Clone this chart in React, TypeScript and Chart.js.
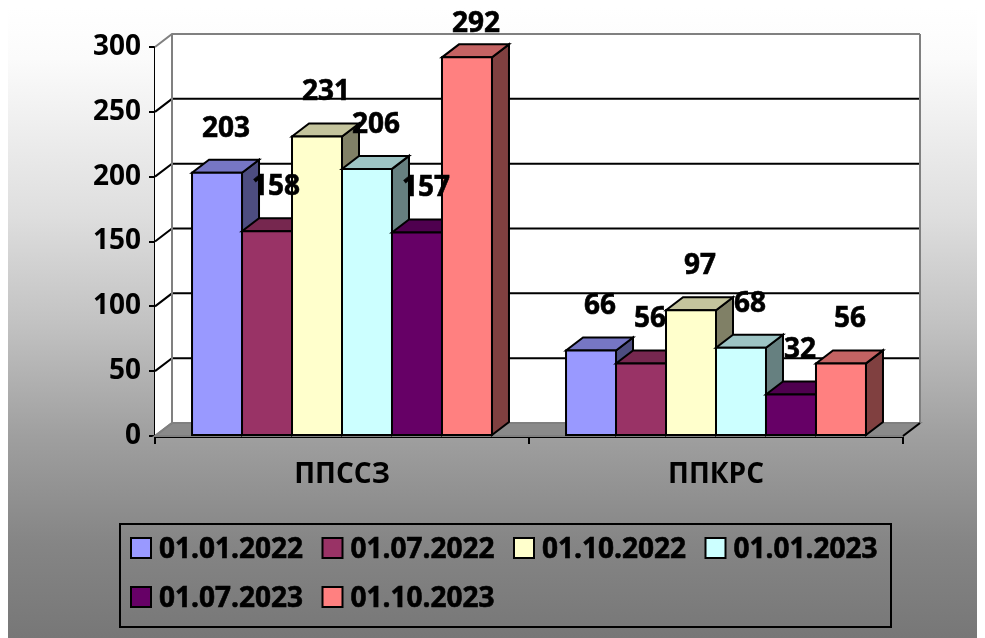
import { useEffect, useRef } from "react";
import { Chart, registerables } from "chart.js";

Chart.register(...registerables);

const categories = ["ППССЗ", "ППКРС"];
const seriesLabels = ["01.01.2022", "01.07.2022", "01.10.2022", "01.01.2023", "01.07.2023", "01.10.2023"];
const values_2022_01 = [203, 66];
const values_2022_07 = [158, 56];
const values_2022_10 = [231, 97];
const values_2023_01 = [206, 68];
const values_2023_07 = [157, 32];
const values_2023_10 = [292, 56];
const seriesValues = [values_2022_01, values_2022_07, values_2022_10, values_2023_01, values_2023_07, values_2023_10];
const seriesColors = ["#9999FF", "#993366", "#FFFFCC", "#CCFFFF", "#660066", "#FF8080"];
const yMin = 0;
const yMax = 300;
const yStep = 50;

const DX = 17;
const DY = -13;
const FAMILY = "'Open Sans', 'Liberation Sans', sans-serif";
const FONT = `bold 28px ${FAMILY}`;

function shade(hex: string, f: number): string {
  const n = parseInt(hex.slice(1), 16);
  const r = Math.round(((n >> 16) & 255) * f);
  const g = Math.round(((n >> 8) & 255) * f);
  const b = Math.round((n & 255) * f);
  return `rgb(${r},${g},${b})`;
}

function poly(ctx: CanvasRenderingContext2D, pts: number[][], fill: string | null, stroke: string | null, lw = 2) {
  ctx.beginPath();
  ctx.moveTo(pts[0][0], pts[0][1]);
  for (let i = 1; i < pts.length; i++) ctx.lineTo(pts[i][0], pts[i][1]);
  ctx.closePath();
  if (fill) {
    ctx.fillStyle = fill;
    ctx.fill();
  }
  if (stroke) {
    ctx.strokeStyle = stroke;
    ctx.lineWidth = lw;
    ctx.lineJoin = "miter";
    ctx.stroke();
  }
}

function boldText(ctx: CanvasRenderingContext2D, text: string, x: number, y: number) {
  ctx.fillText(text, x, y);
  ctx.lineWidth = 0.6;
  ctx.strokeStyle = "#000000";
  ctx.strokeText(text, x, y);
}

const threeDPlugin = {
  id: "threeD",
  beforeDraw(chart: any) {
    const { ctx, width, height } = chart;
    const g = ctx.createLinearGradient(0, 0, 0, height);
    g.addColorStop(0, "#ffffff");
    g.addColorStop(0.08, "#fbfbfb");
    g.addColorStop(0.33, "#dedede");
    g.addColorStop(0.5, "#c2c2c2");
    g.addColorStop(0.68, "#9f9f9f");
    g.addColorStop(0.85, "#858585");
    g.addColorStop(1, "#777777");
    ctx.save();
    ctx.fillStyle = g;
    ctx.fillRect(0, 0, width, height);
    ctx.restore();
  },
  beforeDatasetsDraw(chart: any) {
    const { ctx, chartArea, scales } = chart;
    const { left: L, right: R, top: T, bottom: B } = chartArea;
    const y = scales.y;
    ctx.save();
    poly(ctx, [[L + DX, T + DY], [R + DX, T + DY], [R + DX, B + DY], [L + DX, B + DY]], "#ffffff", null);
    poly(ctx, [[L, T], [L + DX, T + DY], [L + DX, B + DY], [L, B]], "#ffffff", null);
    poly(ctx, [[L, B], [R, B], [R + DX, B + DY], [L + DX, B + DY]], "#8a8a8a", "#808080");
    y.ticks.forEach((t: any) => {
      if (t.value === yMin) return;
      const py = y.getPixelForValue(t.value);
      ctx.beginPath();
      ctx.moveTo(L, py);
      ctx.lineTo(L + DX, py + DY);
      ctx.lineTo(R + DX, py + DY);
      ctx.strokeStyle = t.value === yMax ? "#808080" : "#000000";
      ctx.lineWidth = 2;
      ctx.stroke();
    });
    ctx.strokeStyle = "#808080";
    ctx.lineWidth = 2;
    ctx.beginPath();
    ctx.moveTo(L + DX, T + DY);
    ctx.lineTo(L + DX, B + DY);
    ctx.moveTo(R + DX, T + DY);
    ctx.lineTo(R + DX, B + DY);
    ctx.moveTo(L, B);
    ctx.lineTo(L + DX, B + DY);
    ctx.stroke();
    ctx.strokeStyle = "#000000";
    ctx.beginPath();
    ctx.moveTo(R, B);
    ctx.lineTo(R + DX, B + DY);
    ctx.stroke();
    ctx.restore();
  },
  afterDatasetsDraw(chart: any) {
    const { ctx } = chart;
    ctx.save();
    const bars: any[] = [];
    chart.data.datasets.forEach((ds: any, i: number) => {
      const meta = chart.getDatasetMeta(i);
      const color = seriesColors[i];
      meta.data.forEach((el: any, j: number) => {
        const { x, y, base, width } = el.getProps(["x", "y", "base", "width"], true);
        const x1 = x - width / 2;
        const x2 = x + width / 2;
        poly(ctx, [[x2, y], [x2 + DX, y + DY], [x2 + DX, base + DY], [x2, base]], shade(color, 0.5), "#000000");
        poly(ctx, [[x1, y], [x2, y], [x2 + DX, y + DY], [x1 + DX, y + DY]], shade(color, 0.77), "#000000");
        poly(ctx, [[x1, y], [x2, y], [x2, base], [x1, base]], color, "#000000");
        bars.push({ x, y, v: ds.data[j] });
      });
    });
    ctx.fillStyle = "#000000";
    ctx.font = FONT;
    ctx.textAlign = "center";
    ctx.textBaseline = "middle";
    bars.forEach((b) => boldText(ctx, String(b.v), b.x + 9, Math.max(b.y - 44, 16)));
    ctx.restore();
  },
  afterDraw(chart: any) {
    const { ctx } = chart;
    const bx = 112, by = 516, bw = 771, bh = 103;
    ctx.save();
    ctx.strokeStyle = "#000000";
    ctx.lineWidth = 2;
    ctx.strokeRect(bx, by, bw, bh);
    ctx.font = FONT;
    ctx.textAlign = "left";
    ctx.textBaseline = "middle";
    chart.data.datasets.forEach((ds: any, i: number) => {
      const col = i % 4;
      const row = Math.floor(i / 4);
      const sx = bx + 11 + col * 191.5;
      const sy = by + 14 + row * 49;
      ctx.fillStyle = seriesColors[i];
      ctx.fillRect(sx, sy, 20, 20);
      ctx.strokeStyle = "#000000";
      ctx.lineWidth = 2;
      ctx.strokeRect(sx, sy, 20, 20);
      ctx.fillStyle = "#000000";
      boldText(ctx, ds.label, sx + 28, sy + 12);
    });
    ctx.restore();
  },
};

export default function App() {
  const ref = useRef<HTMLCanvasElement | null>(null);
  useEffect(() => {
    document.documentElement.style.overflow = "hidden";
    document.body.style.overflow = "hidden";
    const canvas = ref.current;
    if (!canvas) return;
    const chart = new Chart(canvas, {
      type: "bar",
      data: {
        labels: categories,
        datasets: seriesLabels.map((label, i) => ({
          label,
          data: seriesValues[i],
          backgroundColor: seriesColors[i],
          borderWidth: 0,
          categoryPercentage: 0.802,
          barPercentage: 1,
        })),
      },
      options: {
        responsive: false,
        animation: false,
        devicePixelRatio: 1,
        layout: { padding: { left: 0, right: 82, top: 39, bottom: 0 } },
        plugins: {
          legend: { display: false },
          tooltip: { enabled: false },
        },
        scales: {
          x: {
            z: 1,
            afterFit: (s: any) => {
              s.height = 202;
            },
            grid: {
              display: true,
              drawOnChartArea: false,
              drawTicks: true,
              tickLength: 8,
              color: "#000000",
              lineWidth: 2,
              offset: true,
            },
            border: { display: true, color: "#000000", width: 3 },
            ticks: {
              color: "#000000",
              padding: 14,
              font: { family: FAMILY, size: 28, weight: "bold" },
            },
          },
          y: {
            z: 1,
            min: yMin,
            max: yMax,
            afterFit: (s: any) => {
              s.width = 147;
            },
            grid: {
              display: true,
              drawOnChartArea: false,
              drawTicks: true,
              tickLength: 6,
              color: "#000000",
              lineWidth: 2,
            },
            border: { display: true, color: "#000000", width: 2 },
            ticks: {
              stepSize: yStep,
              color: "#000000",
              padding: 8,
              font: { family: FAMILY, size: 28, weight: "bold" },
            },
          },
        },
      },
      plugins: [threeDPlugin],
    });
    return () => chart.destroy();
  }, []);
  return (
    <div style={{ width: 977, height: 630 }}>
      <canvas ref={ref} width={977} height={630} style={{ display: "block" }} />
    </div>
  );
}
